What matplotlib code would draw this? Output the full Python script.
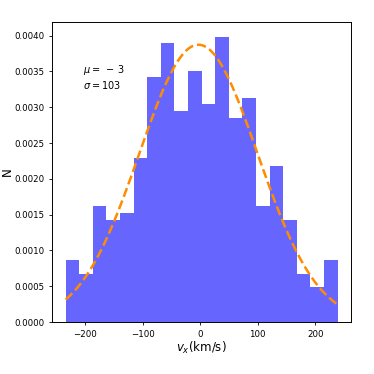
import numpy as np
import matplotlib
matplotlib.use("Agg")
import matplotlib.pyplot as plt

# histogram (density values per bin)
bin_lo = -234
bin_hi = 239
n_bins = 20
density = [0.000866, 0.000670, 0.001620, 0.001425, 0.001527,
           0.002287, 0.003418, 0.003893, 0.002948, 0.003511,
           0.003046, 0.003986, 0.002850, 0.003134, 0.001620,
           0.002184, 0.001425, 0.000670, 0.000484, 0.000866]

# gaussian fit parameters shown on the chart
mu = -3
sigma = 103

edges = np.linspace(bin_lo, bin_hi, n_bins + 1)
centers = 0.5 * (edges[:-1] + edges[1:])

fig = plt.figure(figsize=(3.74, 3.74), dpi=100)
ax = fig.add_axes([0.139, 0.139, 0.8, 0.802])

ax.hist(centers, bins=edges, weights=density, color='blue', alpha=0.6)

x = np.linspace(bin_lo, bin_hi, 300)
pdf = np.exp(-0.5 * ((x - mu) / sigma) ** 2) / (sigma * np.sqrt(2 * np.pi))
ax.plot(x, pdf, '--', color='darkorange', lw=1.8)

ax.text(0.103, 0.865, r'$\mu=\;-\,3$' + '\n' + r'$\sigma=103$', transform=ax.transAxes,
        fontsize=7, va='top', ha='left')

ax.set_ylim(0, 0.00419)
ax.set_yticks(np.arange(0, 0.00401, 0.0005))
ax.set_yticklabels(['%.4f' % v for v in np.arange(0, 0.00401, 0.0005)])
ax.set_xticks([-200, -100, 0, 100, 200])
ax.tick_params(labelsize=6.2, length=2.2, width=0.6)
for s in ax.spines.values():
    s.set_linewidth(0.7)

ax.set_xlabel(r'$v_x$(km/s)', fontsize=8.5, labelpad=1)
ax.set_ylabel('N', fontsize=8.5)
ax.yaxis.set_label_coords(-0.127, 0.5)

fig.savefig('out.png', dpi=100)
